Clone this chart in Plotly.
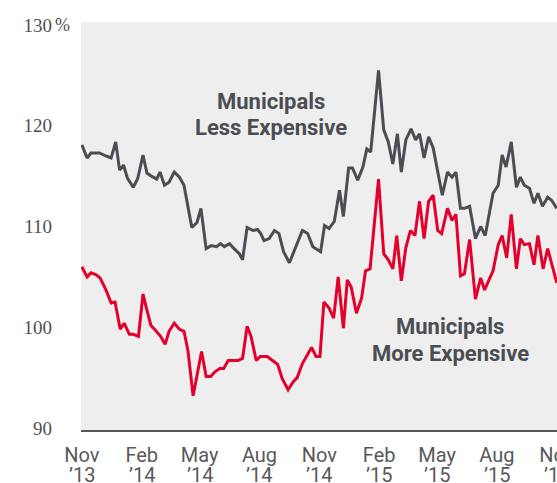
import plotly.graph_objects as go

# ---- data ----
less_dates = [
    "2013-11-01", "2013-11-09", "2013-11-15", "2013-11-28", "2013-12-08", "2013-12-16", "2013-12-23", "2013-12-29",
    "2014-01-04", "2014-01-10", "2014-01-19", "2014-01-26", "2014-02-03", "2014-02-09", "2014-02-16", "2014-02-24",
    "2014-03-01", "2014-03-08", "2014-03-15", "2014-03-23", "2014-03-31", "2014-04-07", "2014-04-13", "2014-04-19",
    "2014-04-27", "2014-05-03", "2014-05-11", "2014-05-19", "2014-05-27", "2014-06-02", "2014-06-08", "2014-06-16",
    "2014-06-23", "2014-07-01", "2014-07-06", "2014-07-13", "2014-07-22", "2014-07-29", "2014-08-03", "2014-08-08",
    "2014-08-16", "2014-08-24", "2014-08-31", "2014-09-07", "2014-09-16", "2014-09-23", "2014-10-06", "2014-10-14",
    "2014-10-22", "2014-11-03", "2014-11-09", "2014-11-16", "2014-11-24", "2014-12-02", "2014-12-08", "2014-12-16",
    "2014-12-22", "2014-12-30", "2015-01-07", "2015-01-13", "2015-01-19", "2015-01-31", "2015-02-08", "2015-02-15",
    "2015-02-22", "2015-03-01", "2015-03-07", "2015-03-14", "2015-03-22", "2015-03-29", "2015-04-04", "2015-04-11",
    "2015-04-18", "2015-04-25", "2015-05-03", "2015-05-09", "2015-05-17", "2015-05-24", "2015-05-30", "2015-06-06",
    "2015-06-12", "2015-06-20", "2015-06-29", "2015-07-07", "2015-07-14", "2015-07-26", "2015-08-03", "2015-08-09",
    "2015-08-15", "2015-08-23", "2015-08-31", "2015-09-06", "2015-09-12", "2015-09-20", "2015-09-27", "2015-10-03",
    "2015-10-10", "2015-10-18", "2015-10-24", "2015-11-01",
]
less_values = [
    118.1, 116.8, 117.3, 117.3, 117.0, 116.8, 118.4, 115.6, 116.1, 114.8, 113.9, 114.8, 117.1, 115.3, 115.0, 114.7,
    115.4, 114.1, 114.4, 115.4, 114.9, 114.1, 112.0, 109.9, 110.4, 111.8, 107.8, 108.1, 108.0, 108.3, 108.0, 108.3,
    107.8, 107.3, 106.7, 109.9, 109.6, 109.7, 109.3, 108.6, 108.8, 109.6, 109.3, 107.5, 106.4, 107.5, 109.6, 109.3,
    108.0, 107.5, 110.1, 109.8, 110.5, 113.6, 111.0, 115.8, 115.8, 114.6, 115.9, 117.7, 117.4, 125.5, 119.6, 118.4,
    116.2, 119.2, 115.4, 118.6, 119.7, 118.6, 119.2, 116.8, 118.9, 117.8, 115.3, 113.1, 115.4, 114.9, 115.4, 111.8,
    111.8, 112.0, 108.8, 110.0, 109.1, 113.3, 114.1, 117.1, 115.9, 118.4, 113.9, 114.9, 114.1, 113.8, 112.3, 113.3,
    112.0, 112.9, 112.6, 111.8,
]

more_dates = [
    "2013-11-01", "2013-11-09", "2013-11-15", "2013-11-23", "2013-11-29", "2013-12-08", "2013-12-16", "2013-12-22",
    "2013-12-30", "2014-01-05", "2014-01-13", "2014-01-19", "2014-01-27", "2014-02-03", "2014-02-09", "2014-02-15",
    "2014-02-22", "2014-03-02", "2014-03-09", "2014-03-15", "2014-03-23", "2014-03-31", "2014-04-07", "2014-04-13",
    "2014-04-21", "2014-04-28", "2014-05-04", "2014-05-11", "2014-05-18", "2014-05-25", "2014-06-01", "2014-06-07",
    "2014-06-14", "2014-06-23", "2014-06-29", "2014-07-06", "2014-07-13", "2014-07-19", "2014-07-27", "2014-08-02",
    "2014-08-13", "2014-08-21", "2014-08-29", "2014-09-05", "2014-09-14", "2014-09-22", "2014-09-28", "2014-10-06",
    "2014-10-13", "2014-10-20", "2014-10-27", "2014-11-02", "2014-11-08", "2014-11-16", "2014-11-23", "2014-11-30",
    "2014-12-08", "2014-12-14", "2014-12-20", "2014-12-28", "2015-01-05", "2015-01-11", "2015-01-18", "2015-01-31",
    "2015-02-08", "2015-02-15", "2015-02-22", "2015-02-28", "2015-03-07", "2015-03-14", "2015-03-21", "2015-03-28",
    "2015-04-04", "2015-04-11", "2015-04-18", "2015-04-25", "2015-05-02", "2015-05-08", "2015-05-17", "2015-05-24",
    "2015-05-30", "2015-06-06", "2015-06-12", "2015-06-20", "2015-06-29", "2015-07-07", "2015-07-13", "2015-07-26",
    "2015-08-03", "2015-08-09", "2015-08-16", "2015-08-23", "2015-08-31", "2015-09-06", "2015-09-12", "2015-09-20",
    "2015-09-27", "2015-10-03", "2015-10-11", "2015-10-18", "2015-11-01",
]
more_values = [
    106.0, 105.0, 105.4, 105.2, 104.9, 103.7, 102.4, 102.5, 99.8, 100.4, 99.3, 99.3, 99.1, 103.3, 101.7, 100.2,
    99.7, 99.1, 98.3, 99.6, 100.4, 99.8, 99.6, 97.7, 93.2, 95.6, 97.6, 95.1, 95.1, 95.6, 95.9, 95.9,
    96.7, 96.7, 96.7, 96.9, 100.1, 99.1, 96.7, 97.1, 97.1, 96.7, 96.3, 94.9, 93.8, 94.6, 95.0, 96.4,
    97.2, 98.0, 97.1, 97.1, 102.5, 101.9, 100.9, 105.0, 99.9, 104.7, 104.0, 101.4, 102.9, 105.6, 105.8, 114.7,
    107.3, 106.7, 105.8, 109.1, 104.6, 107.9, 109.6, 109.1, 112.5, 108.8, 112.5, 113.1, 109.6, 109.3, 111.8, 110.6,
    111.2, 105.1, 105.3, 108.7, 102.8, 104.9, 103.7, 105.6, 108.2, 109.1, 106.9, 111.2, 105.8, 108.8, 108.2, 108.3,
    106.2, 109.1, 105.8, 107.8, 104.4,
]

x_tick_vals = ["2013-11-01", "2014-02-01", "2014-05-01", "2014-08-01", "2014-11-01",
               "2015-02-01", "2015-05-01", "2015-08-01", "2015-11-01"]
x_tick_months = ["Nov", "Feb", "May", "Aug", "Nov", "Feb", "May", "Aug", "Nov"]
x_tick_years = ["’13", "’14", "’14", "’14", "’14", "’15", "’15", "’15", "’15"]
y_tick_vals = [90, 100, 110, 120, 130]
y_tick_text = ["90", "100", "110", "120", "130"]

GRAY = "#4a4d52"
RED = "#e4002b"
LABEL = "#58595b"
SANS_N = "Liberation Sans Narrow, Roboto, sans-serif"
SERIF = "Liberation Serif, DejaVu Serif, serif"

fig = go.Figure()
fig.add_trace(go.Scatter(x=less_dates, y=less_values, mode="lines",
                         line=dict(color=GRAY, width=3), hoverinfo="skip", showlegend=False))
fig.add_trace(go.Scatter(x=more_dates, y=more_values, mode="lines",
                         line=dict(color=RED, width=3), hoverinfo="skip", showlegend=False))

W, H = 557, 483
ML, MT, MB, MR = 81, 22, 53, 0

fig.update_layout(
    width=W, height=H,
    margin=dict(l=ML, r=MR, t=MT, b=MB, pad=0, autoexpand=False),
    paper_bgcolor="white",
    plot_bgcolor="#eeeeee",
    showlegend=False,
    xaxis=dict(
        type="date",
        range=["2013-10-30 16:00", "2015-11-01 08:00"],
        tickmode="array", tickvals=x_tick_vals, ticktext=x_tick_months,
        showgrid=False, zeroline=False, automargin=False,
        showline=True, linecolor="#55575b", linewidth=2,
        ticks="", ticklabelstandoff=6, ticklabeloverflow="allow",
        tickfont=dict(family=SANS_N, size=20, color=LABEL),
        fixedrange=True,
    ),
    yaxis=dict(
        range=[89.8, 130.3],
        tickmode="array", tickvals=y_tick_vals, ticktext=y_tick_text,
        showgrid=False, zeroline=False, showline=False, automargin=False,
        ticks="", ticklabelstandoff=28,
        tickfont=dict(family=SERIF, size=19, color="#505050"),
        fixedrange=True,
    ),
)

pw = W - ML - MR
ph = H - MT - MB

def px_x(px):
    return (px - ML) / pw

def px_y(py):
    return (H - MB - py) / ph

# year line of the x tick labels
for xv, yr in zip(x_tick_vals, x_tick_years):
    fig.add_annotation(text=yr, xref="x", yref="paper", x=xv, y=px_y(475),
                       xanchor="center", yanchor="middle", showarrow=False,
                       font=dict(family=SANS_N, size=20, color=LABEL))

ann_font = dict(family=SANS_N, size=22, color=GRAY)
annotations = [
    dict(text="<b>Municipals</b>", x=px_x(271), y=px_y(102)),
    dict(text="<b>Less Expensive</b>", x=px_x(271), y=px_y(128)),
    dict(text="<b>Municipals</b>", x=px_x(450), y=px_y(326)),
    dict(text="<b>More Expensive</b>", x=px_x(450), y=px_y(353)),
]
for a in annotations:
    fig.add_annotation(xref="paper", yref="paper", showarrow=False,
                       xanchor="center", yanchor="middle", font=ann_font, **a)

fig.add_annotation(text="%", xref="paper", yref="paper", x=px_x(53), y=px_y(25),
                   xanchor="left", yanchor="middle", showarrow=False,
                   font=dict(family=SERIF, size=18, color="#505050"))

fig.write_html("out.html", config={"displayModeBar": False},
               post_script="document.body.style.margin='0';document.body.style.overflow='hidden';")
